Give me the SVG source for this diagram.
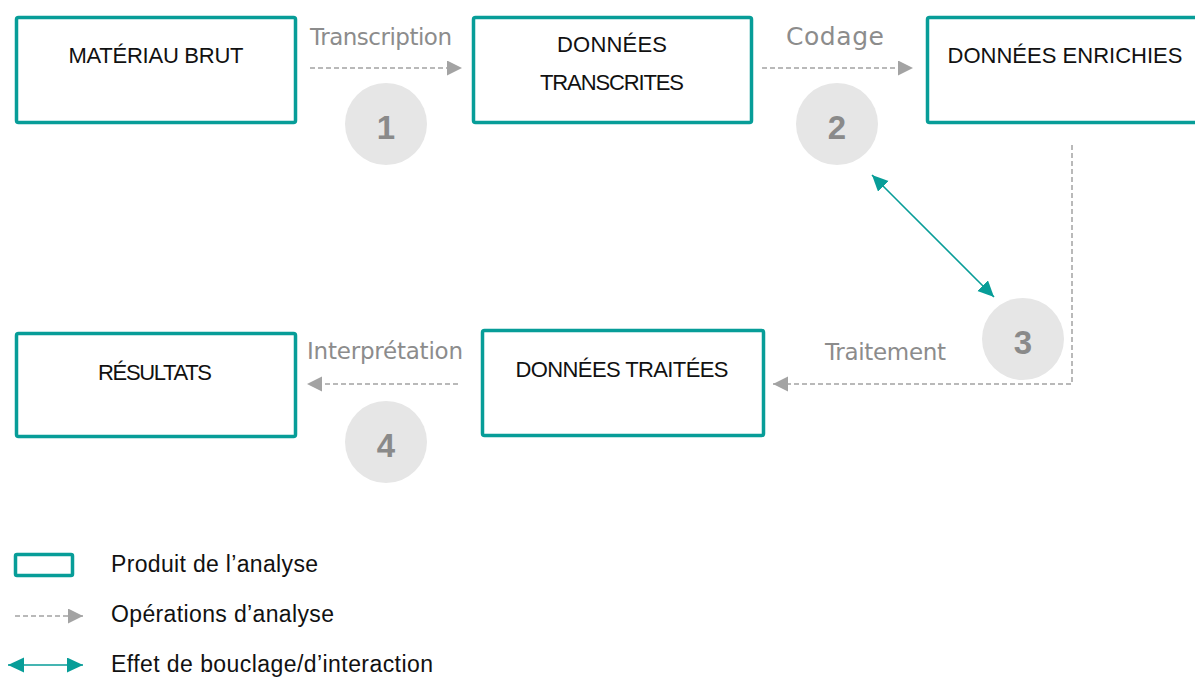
<svg xmlns="http://www.w3.org/2000/svg" width="1195" height="678" viewBox="0 0 1195 678">
<defs>
<style>
.box{fill:#fff;stroke:#079d98;stroke-width:3.5}
.bt{font-family:"Liberation Sans",Arial,sans-serif;font-size:22px;fill:#111;text-anchor:middle}
.lbl{font-family:"DejaVu Sans","Liberation Sans",sans-serif;font-size:23px;fill:#8c8c8c}
.op{fill:none;stroke:#a3a3a3;stroke-width:1.5;stroke-dasharray:5 3}
.loop{fill:none;stroke:#079d98;stroke-width:1.6}
.num{fill:#e6e6e6}
.nt{font-family:"Liberation Sans",Arial,sans-serif;font-size:33px;font-weight:bold;fill:#8a8a8a;text-anchor:middle}
.leg{font-family:"Liberation Sans",Arial,sans-serif;font-size:23px;fill:#111}
</style>
<marker id="ga" markerUnits="userSpaceOnUse" markerWidth="16" markerHeight="16" refX="15" refY="7.5" orient="auto"><path d="M0,0 L15,7.5 L0,15 z" fill="#a3a3a3"/></marker>
<marker id="ta" markerUnits="userSpaceOnUse" markerWidth="17" markerHeight="16" refX="16" refY="7.5" orient="auto-start-reverse"><path d="M0,0 L16,7.5 L0,15 z" fill="#079d98"/></marker>
</defs>
<rect width="1195" height="678" fill="#fff"/>

<g id="connectors">
<line class="op" x1="310" y1="68" x2="462" y2="68" marker-end="url(#ga)"/>
<line class="op" x1="762" y1="68" x2="913" y2="68" marker-end="url(#ga)"/>
<path class="op" d="M1072,145 V384 H773" marker-end="url(#ga)"/>
<line class="op" x1="458" y1="384" x2="307" y2="384" marker-end="url(#ga)"/>
<line class="loop" x1="872" y1="175" x2="994" y2="297" marker-start="url(#ta)" marker-end="url(#ta)"/>
<text class="lbl" x="310" y="45" textLength="142">Transcription</text>
<text class="lbl" x="786" y="45" textLength="98" style="font-size:25px">Codage</text>
<text class="lbl" x="825" y="360" textLength="121">Traitement</text>
<text class="lbl" x="307" y="359" textLength="156">Interprétation</text>
</g>

<g id="step1"><circle class="num" cx="386" cy="124" r="41"/><text class="nt" x="386" y="139">1</text></g>
<g id="step2"><circle class="num" cx="837" cy="124" r="41"/><text class="nt" x="837" y="139">2</text></g>
<g id="step3"><circle class="num" cx="1023" cy="339" r="41"/><text class="nt" x="1023" y="354">3</text></g>
<g id="step4"><circle class="num" cx="386" cy="442" r="41"/><text class="nt" x="386" y="457">4</text></g>

<g id="materiau-brut"><rect class="box" x="16.5" y="17.5" width="279" height="105" rx="2"/><text class="bt" x="156" y="63" textLength="175">MATÉRIAU BRUT</text></g>
<g id="donnees-transcrites"><rect class="box" x="473.5" y="17.5" width="278" height="105" rx="2"/><text class="bt" x="612" y="52" textLength="110">DONNÉES</text><text class="bt" x="612" y="90" textLength="144">TRANSCRITES</text></g>
<g id="donnees-enrichies"><rect class="box" x="927.5" y="17.5" width="300" height="105" rx="2"/><text class="bt" x="1065" y="63" textLength="235">DONNÉES ENRICHIES</text></g>
<g id="donnees-traitees"><rect class="box" x="482.5" y="330.5" width="281" height="105" rx="2"/><text class="bt" x="622" y="377" textLength="213">DONNÉES TRAITÉES</text></g>
<g id="resultats"><rect class="box" x="16.5" y="333.5" width="279" height="103" rx="2"/><text class="bt" x="155" y="380" textLength="114">RÉSULTATS</text></g>

<g id="legend">
<rect class="box" x="15.5" y="554.5" width="57" height="21" rx="1.5" stroke-width="3"/>
<text class="leg" x="111" y="572" textLength="207">Produit de l’analyse</text>
<line class="op" x1="15" y1="616" x2="83" y2="616" marker-end="url(#ga)"/>
<text class="leg" x="111" y="622" textLength="223">Opérations d’analyse</text>
<line class="loop" x1="8" y1="665" x2="83" y2="665" marker-start="url(#ta)" marker-end="url(#ta)"/>
<text class="leg" x="111" y="672" textLength="322">Effet de bouclage/d’interaction</text>
</g>
</svg>
